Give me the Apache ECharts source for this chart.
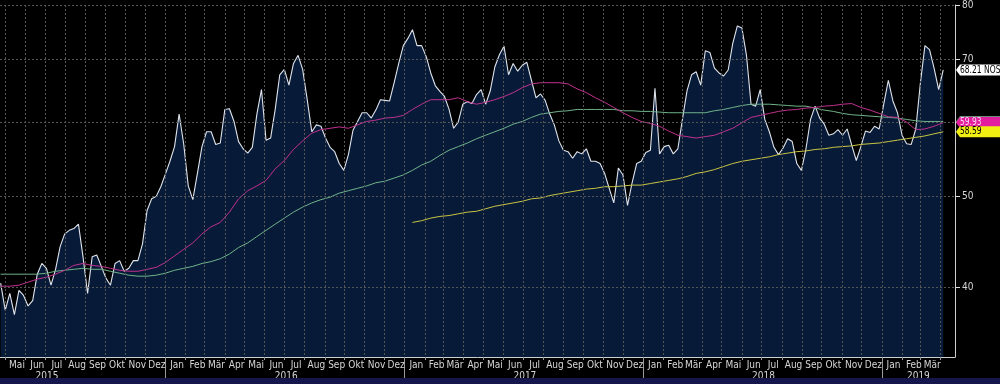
<!DOCTYPE html>
<html>
<head>
<meta charset="utf-8">
<script src="https://cdn.jsdelivr.net/npm/echarts/dist/echarts.min.js"></script>
<style>
  html, body { margin: 0; padding: 0; background: #000; }
  #chart { width: 1000px; height: 384px; }
</style>
</head>
<body>
<div id="chart"></div>
<script>
// ---------- DATA ----------
// weekly observations, first one on 24 Apr 2015
const startDate = [2015, 3, 24];
const weekDays = 7;
const mainValues = [
  40.4, 37.8, 39.4, 37.4, 39.7, 39.2, 38.2, 38.7, 41.3, 42.4,
  41.9, 40.2, 41.8, 44.2, 45.6, 46.0, 46.2, 46.7, 43.1, 39.4,
  43.1, 43.3, 42.1, 40.9, 40.2, 42.4, 42.7, 41.6, 41.9, 42.7,
  42.7, 44.5, 48.3, 49.7, 50.0, 51.2, 52.8, 54.5, 56.5, 61.2,
  56.9, 51.3, 49.6, 52.9, 56.5, 58.6, 58.6, 56.8, 57.0, 61.9,
  62.0, 60.1, 57.2, 56.2, 55.6, 56.4, 61.2, 65.0, 57.4, 57.7,
  61.9, 67.4, 68.3, 65.7, 69.3, 70.7, 68.3, 63.4, 58.6, 59.6,
  59.4, 57.7, 56.4, 55.8, 54.2, 53.3, 55.4, 58.8, 60.1, 61.4,
  61.4, 60.6, 61.8, 63.4, 63.3, 63.2, 66.1, 69.3, 72.4, 73.7,
  75.3, 72.4, 72.4, 70.5, 67.7, 65.6, 64.7, 63.9, 61.9, 59.1,
  60.0, 62.7, 63.1, 62.8, 64.2, 65.0, 62.7, 64.8, 68.7, 70.8,
  72.3, 67.4, 69.3, 68.0, 69.0, 69.5, 66.5, 63.7, 64.3, 63.3,
  61.2, 59.6, 57.3, 56.0, 55.8, 54.9, 55.8, 55.5, 56.2, 54.5,
  54.5, 54.2, 52.9, 51.0, 49.2, 53.6, 52.7, 48.9, 51.7, 54.2,
  54.5, 55.7, 56.0, 65.2, 55.5, 56.5, 56.7, 55.5, 56.2, 60.4,
  64.8, 67.4, 67.9, 65.7, 71.5, 71.2, 68.5, 67.7, 67.2, 68.2,
  72.8, 76.0, 75.6, 70.7, 62.7, 62.4, 65.0, 60.4, 58.6, 56.4,
  55.4, 56.3, 57.6, 57.2, 54.2, 53.3, 56.2, 60.4, 62.4, 60.6,
  59.7, 58.1, 58.3, 58.9, 58.1, 59.0, 56.7, 54.6, 56.5, 58.7,
  58.5, 59.4, 59.0, 62.7, 66.5, 63.2, 61.4, 58.1, 56.9, 56.8,
  59.0, 66.0, 72.4, 71.7, 68.5, 65.0, 68.21
];
// moving averages, read every second week
const maStepWeeks = 2;
const magentaValues = [
  40.1, 40.1, 40.2, 40.5, 40.8, 41.0, 41.3, 41.7, 42.2, 42.4,
  42.2, 42.1, 41.9, 41.7, 41.6, 41.6, 41.8, 42.0, 42.5, 43.2,
  43.9, 44.6, 45.6, 46.4, 46.9, 48.1, 49.7, 50.7, 51.3, 52.0,
  53.5, 54.6, 56.1, 57.3, 58.4, 58.9, 59.1, 59.3, 59.1, 59.6,
  60.1, 60.3, 60.6, 60.7, 61.0, 61.9, 62.7, 63.4, 63.4, 63.4,
  63.7, 63.1, 62.7, 63.0, 63.4, 63.9, 64.5, 65.3, 65.9, 66.1,
  66.1, 66.1, 65.9, 65.1, 64.5, 63.7, 63.0, 62.2, 61.4, 60.7,
  60.1, 59.8, 59.4, 58.7, 58.1, 57.9, 57.7, 57.9, 58.1, 58.6,
  59.1, 59.9, 60.7, 61.0, 61.3, 61.6, 61.8, 61.9, 62.1, 62.2,
  62.4, 62.5, 62.7, 62.8, 62.2, 61.8, 61.3, 60.8, 60.7, 60.0,
  58.9, 59.0, 59.4, 59.93
];
const greenValues = [
  41.3, 41.3, 41.3, 41.3, 41.3, 41.4, 41.6, 41.7, 41.8, 41.9,
  41.8, 41.8, 41.6, 41.4, 41.2, 41.1, 41.1, 41.2, 41.4, 41.7,
  41.9, 42.1, 42.4, 42.6, 42.9, 43.4, 44.1, 44.6, 45.3, 46.0,
  46.7, 47.4, 48.1, 48.7, 49.2, 49.6, 49.9, 50.4, 50.7, 51.0,
  51.3, 51.7, 51.9, 52.3, 52.7, 53.3, 54.0, 54.5, 55.3, 56.0,
  56.5, 57.0, 57.6, 58.1, 58.6, 59.1, 59.7, 60.1, 60.7, 61.2,
  61.4, 61.6, 61.7, 61.9, 61.9, 61.9, 61.9, 61.9, 61.7, 61.7,
  61.6, 61.6, 61.5, 61.4, 61.4, 61.4, 61.4, 61.4, 61.7, 61.9,
  62.2, 62.5, 62.7, 62.7, 62.7, 62.6, 62.5, 62.4, 62.4, 62.1,
  61.8, 61.6, 61.3, 61.1, 61.0, 60.9, 60.8, 60.7, 60.6, 60.4,
  60.2, 60.1, 60.1, 60.1
];
const yellowStartWeek = 90;
const yellowValues = [
  46.9, 47.1, 47.4, 47.6, 47.7, 47.9, 48.1, 48.2, 48.5, 48.8,
  49.0, 49.2, 49.4, 49.7, 49.8, 50.1, 50.3, 50.5, 50.7, 50.9,
  51.0, 51.2, 51.2, 51.3, 51.4, 51.4, 51.6, 51.8, 52.0, 52.2,
  52.5, 52.9, 53.1, 53.4, 53.8, 54.2, 54.5, 54.7, 54.9, 55.1,
  55.4, 55.6, 55.8, 55.9, 56.1, 56.2, 56.4, 56.5, 56.6, 56.8,
  56.9, 57.0, 57.2, 57.4, 57.6, 57.8, 58.0, 58.3, 58.59
];
const mainTagSuffix = ' NOS';
const monthNames = ['Jan', 'Feb', 'Mär', 'Apr', 'Mai', 'Jun', 'Jul', 'Aug', 'Sep', 'Okt', 'Nov', 'Dez'];
const yearLabels = [2015, 2016, 2017, 2018, 2019];
const yTicks = [40, 50, 60, 70, 80];
const axisStart = [2015, 3, 23];
const axisEnd = [2019, 3, 23];
const yMin = 33.7, yMax = 80;

// ---------- BUILD ----------
function weekTs(i) {
  return new Date(startDate[0], startDate[1], startDate[2] + weekDays * i).getTime();
}
const xMin = new Date(axisStart[0], axisStart[1], axisStart[2]).getTime();
const xMax = new Date(axisEnd[0], axisEnd[1], axisEnd[2]).getTime();
const lastDataTs = weekTs(mainValues.length - 1);

const mainData = mainValues.map((v, i) => [weekTs(i), v]);
const magentaData = magentaValues.map((v, j) => [weekTs(j * maStepWeeks), v]);
const greenData = greenValues.map((v, j) => [weekTs(j * maStepWeeks), v]);
const yellowData = yellowValues.map((v, j) => [weekTs(yellowStartWeek + j * maStepWeeks), v]);

// month ticks (1st of month) and labels (placed inside each month)
const monthTicks = [], monthLabelPos = [];
for (let y = 2015; y <= 2019; y++) {
  for (let m = 0; m < 12; m++) {
    const t = new Date(y, m, 1).getTime();
    const l = new Date(y, m, 19).getTime();
    if (t > xMin && t < xMax) monthTicks.push(t);
    if (l > xMin && l < lastDataTs) monthLabelPos.push(l);
  }
}
const yearTicks = [], yearLabelPos = [];
yearLabels.forEach(y => {
  const s = new Date(y, 0, 1).getTime();
  const e = new Date(y + 1, 0, 1).getTime();
  if (s > xMin && s < xMax) yearTicks.push(s);
  const mid = new Date(y, 6, 4).getTime();
  if (mid > xMin && mid < xMax) yearLabelPos.push(mid);
  else yearLabelPos.push((Math.max(s, xMin) + Math.min(e, xMax)) / 2);
});

const FONT = "'Liberation Sans Narrow', 'DejaVu Sans Condensed', 'Liberation Sans', sans-serif";
const gridLine = { color: '#555555', type: [2, 2], width: 1 };

const chart = echarts.init(document.getElementById('chart'), null, { renderer: 'canvas' });
chart.setOption({
  animation: false,
  backgroundColor: '#000',
  grid: { left: 0, right: 45, top: -1, bottom: 27, containLabel: false },
  xAxis: [
    {
      type: 'value', min: xMin, max: xMax, position: 'bottom', z: 5, scale: true,
      axisLine: { show: true, lineStyle: { color: '#cfcfcf', width: 1 } },
      axisTick: { show: true, customValues: monthTicks, length: 3, lineStyle: { color: '#9a9a9a' } },
      splitLine: { show: true, lineStyle: gridLine },
      axisLabel: {
        show: true, customValues: monthLabelPos, margin: 3, color: '#d6d6d6',
        fontSize: 10, fontFamily: FONT, hideOverlap: false,
        formatter: v => monthNames[new Date(v).getMonth()]
      }
    },
    {
      type: 'value', min: xMin, max: xMax, position: 'bottom', z: 5, scale: true,
      axisLine: { show: false },
      axisTick: { show: true, customValues: yearTicks, length: 26, lineStyle: { color: '#9a9a9a' } },
      splitLine: { show: false },
      axisLabel: {
        show: true, customValues: yearLabelPos, margin: 14, color: '#d6d6d6',
        fontSize: 10, fontFamily: FONT, hideOverlap: false,
        formatter: v => String(new Date(v).getFullYear())
      }
    }
  ],
  yAxis: {
    type: 'log', logBase: 10, min: yMin, max: yMax, position: 'right', z: 5,
    axisLine: { show: true, lineStyle: { color: '#cfcfcf', width: 1 } },
    axisTick: { show: true, customValues: yTicks, length: 5, lineStyle: { color: '#e0e0e0' } },
    splitLine: { show: true, lineStyle: gridLine },
    axisLabel: {
      show: true, customValues: yTicks, margin: 7, color: '#d6d6d6',
      fontSize: 10, fontFamily: FONT
    }
  },
  series: [
    {
      type: 'line', data: mainData, symbol: 'none', z: 2,
      lineStyle: { color: '#dfe4ec', width: 1.1 },
      areaStyle: { color: 'rgba(12, 44, 92, 0.88)', origin: 'start' }
    },
    {
      type: 'line', data: greenData, symbol: 'none', z: 3,
      lineStyle: { color: '#6fb38a', width: 1 }
    },
    {
      type: 'line', data: magentaData, symbol: 'none', z: 3,
      lineStyle: { color: '#c0318f', width: 1 }
    },
    {
      type: 'line', data: yellowData, symbol: 'none', z: 3,
      lineStyle: { color: '#c9c442', width: 1 }
    }
  ]
});

// value tags at the right axis
const axisX = chart.convertToPixel({ xAxisIndex: 0 }, xMax);
function tag(value, fill, textColor, label, z) {
  const y = chart.convertToPixel({ yAxisIndex: 0 }, value);
  const h = 5.5;
  return [
    { type: 'polygon', z: z, zlevel: 1,
      shape: { points: [[axisX + 1, y], [axisX + 5, y - h], [1000, y - h], [1000, y + h], [axisX + 5, y + h]] },
      style: { fill: fill } },
    { type: 'text', z: z + 1, zlevel: 1, x: axisX + 5, y: y, scaleX: 0.84,
      style: { text: label, fill: textColor, font: '10px ' + FONT, verticalAlign: 'middle', align: 'left' } }
  ];
}
const last = a => a[a.length - 1];
chart.setOption({
  graphic: [
    { type: 'rect', z: 100, zlevel: 1, shape: { x: 0, y: 378, width: 1000, height: 6 }, style: { fill: '#15174c' } },
    ...tag(last(greenValues), '#6b8f78', '#000', '', 110),
    ...tag(last(magentaValues), '#e21d9e', '#ffd6f2', last(magentaValues).toFixed(2), 120),
    ...tag(last(yellowValues), '#f2ee12', '#000', last(yellowValues).toFixed(2), 130),
    ...tag(last(mainValues), '#ffffff', '#000', last(mainValues).toFixed(2) + mainTagSuffix, 140)
  ]
});
</script>
</body>
</html>
